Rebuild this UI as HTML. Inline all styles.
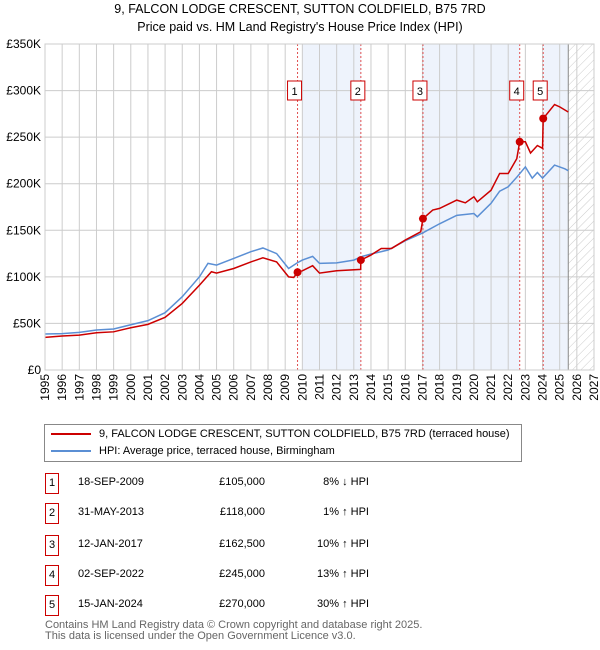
<!DOCTYPE html>
<html><head><meta charset="utf-8"><style>
body{margin:0;background:#fff;font-family:"Liberation Sans","DejaVu Sans",sans-serif;}
#wrap{position:relative;width:600px;height:650px;overflow:hidden;}
.t{position:absolute;font-size:11px;color:#000;white-space:nowrap;}
.box{position:absolute;border:1px solid #c00;width:12px;height:19px;font-size:11px;text-align:center;line-height:19px;background:#fff;}
</style></head><body><div id="wrap">
<svg id="chart" width="600" height="420" style="position:absolute;left:0;top:0"></svg>
<div style="position:absolute;left:44px;top:424px;width:476px;height:36px;border:1px solid #888;">
 <div style="position:absolute;left:6px;top:3px;font-size:11px;white-space:nowrap"><span style="display:inline-block;width:40px;height:2px;background:#c00;vertical-align:middle;margin-right:8px"></span>9, FALCON LODGE CRESCENT, SUTTON COLDFIELD, B75 7RD (terraced house)</div>
 <div style="position:absolute;left:6px;top:20px;font-size:11px;white-space:nowrap"><span style="display:inline-block;width:40px;height:2px;background:#5b8fd4;vertical-align:middle;margin-right:8px"></span>HPI: Average price, terraced house, Birmingham</div>
</div>
<div id="table"></div>
<div class="t" style="left:45px;top:620px;color:#666;font-size:11px;line-height:11px">Contains HM Land Registry data © Crown copyright and database right 2025.<br>This data is licensed under the Open Government Licence v3.0.</div>
</div>
<script>
const hpiYears=[1995,1996,1997,1998,1999,2000,2001,2002,2003,2004,2004.5,2005,2006,2007,2007.7,2008.5,2009.2,2009.7,2010,2010.6,2011,2012,2013,2013.5,2014,2015,2016,2017,2018,2019,2020,2020.2,2021,2021.5,2022,2022.5,2023,2023.4,2023.7,2024,2024.7,2025.3,2025.5];
const hpiValues=[38.6,39,40.4,43,44,48.6,53,61.5,78.7,100,114.5,112.6,119.8,127,131,125,109,115,118,122,114.5,115,118,122,124.5,128.8,138.8,147,157,166,168,164.5,179,192,196.7,207,218,206,212,206,220,216,214];
const redYears=[1995,1996,1997,1998,1999,2000,2001,2002,2003,2004,2004.7,2005,2006,2007,2007.7,2008.5,2009.2,2009.5,2009.72,2010,2010.6,2011,2012,2013.4,2013.41,2014,2014.6,2015.2,2016,2016.9,2017.03,2017.6,2018,2019,2019.5,2020,2020.2,2021,2021.5,2022,2022.5,2022.67,2023,2023.3,2023.7,2024,2024.04,2024.7,2025,2025.5];
const redValues=[35,36.5,37.5,40,41,45.4,49,56.5,71.5,91,105.5,104,109,116,120.5,116,100,99.4,105,106.5,112,104,106.5,108,118,123.4,130.5,130.5,139.5,148.4,162.5,171.7,173.5,182.4,179.5,186,180.6,193,211,211,227,245,245,233,241,238,270,285,282.5,277];
const saleYears=[2009.72,2013.41,2017.03,2022.67,2024.04];
const salePrices=[105,118,162.5,245,270];
const saleLabels=["1","2","3","4","5"];
const saleDates=["18-SEP-2009","31-MAY-2013","12-JAN-2017","02-SEP-2022","15-JAN-2024"];
const salePriceText=["£105,000","£118,000","£162,500","£245,000","£270,000"];
const saleHpiText=["8% ↓ HPI","1% ↑ HPI","10% ↑ HPI","13% ↑ HPI","30% ↑ HPI"];
const yTicks=[0,50,100,150,200,250,300,350];
const yTickLabels=["£0","£50K","£100K","£150K","£200K","£250K","£300K","£350K"];
const xTicks=[1995,1996,1997,1998,1999,2000,2001,2002,2003,2004,2005,2006,2007,2008,2009,2010,2011,2012,2013,2014,2015,2016,2017,2018,2019,2020,2021,2022,2023,2024,2025,2026,2027];

const L=45,R=594,T=44,B=370,x0=1995,x1=2027,ymax=350;
const X=v=>L+(v-x0)/(x1-x0)*(R-L);
const Y=v=>B-v/ymax*(B-T);
const svg=document.getElementById('chart');const NS='http://www.w3.org/2000/svg';
function mk(tag,attrs,parent){const e=document.createElementNS(NS,tag);for(const k in attrs)e.setAttribute(k,attrs[k]);(parent||svg).appendChild(e);return e;}
const defs=mk('defs',{});
const pat=mk('pattern',{id:'hatch',width:6,height:6,patternUnits:'userSpaceOnUse',patternTransform:'rotate(45)'},defs);
mk('line',{x1:0,y1:0,x2:0,y2:6,stroke:'#ccc','stroke-width':1},pat);
// shaded bands
const bands=[[2010,saleYears[1]],[saleYears[2],saleYears[3]],[saleYears[4],2025.5]];
bands.forEach((b,i)=>{const r=mk('rect',{x:X(b[0]),y:T,width:X(b[1])-X(b[0]),height:B-T,fill:'#eef3fc'});

});
const hr=mk('rect',{x:X(2025.5),y:T,width:R-X(2025.5),height:B-T,fill:'url(#hatch)'});


// grid
yTicks.forEach((v,i)=>{mk('line',{x1:L,x2:R,y1:Y(v),y2:Y(v),stroke:'#ccc'});
const t=mk('text',{x:L-4,y:Y(v)+4,'text-anchor':'end','font-size':12,'font-family':'Liberation Sans, sans-serif'});t.textContent=yTickLabels[i];

});
xTicks.forEach(v=>{mk('line',{x1:X(v),x2:X(v),y1:T,y2:B,stroke:'#ccc'});
const t=mk('text',{transform:`translate(${X(v)+4},${B+4}) rotate(-90)`,'text-anchor':'end','font-size':12,'font-family':'Liberation Sans, sans-serif'});t.textContent=v;

});
mk('line',{x1:X(2025.5),x2:X(2025.5),y1:T,y2:B,stroke:'#888'});
// sale lines
saleYears.forEach(v=>{const l=mk('line',{x1:X(v),x2:X(v),y1:T,y2:B,stroke:'#e05050','stroke-dasharray':'2,2','stroke-width':1});

});
// series
const hp=mk('polyline',{points:hpiYears.map((y,i)=>X(y)+','+Y(hpiValues[i])).join(' '),fill:'none',stroke:'#5b8fd4','stroke-width':1.5});


const rp=mk('polyline',{points:redYears.map((y,i)=>X(y)+','+Y(redValues[i])).join(' '),fill:'none',stroke:'#cc0000','stroke-width':1.5});


saleYears.forEach((v,i)=>{const c=mk('circle',{cx:X(v),cy:Y(salePrices[i]),r:4,fill:'#cc0000'});


const g=mk('rect',{x:X(v)-10,y:81,width:14,height:19,fill:'#fff',stroke:'#c00'});


const t=mk('text',{x:X(v)-3,y:95,'text-anchor':'middle','font-size':11,'font-family':'Liberation Sans, sans-serif'});t.textContent=saleLabels[i];});
mk('rect',{x:L,y:T,width:R-L,height:B-T,fill:'none',stroke:'#ccc'});
const t1=mk('text',{x:300,y:13,'text-anchor':'middle','font-size':12.5,'font-family':'Liberation Sans, sans-serif'});t1.textContent='9, FALCON LODGE CRESCENT, SUTTON COLDFIELD, B75 7RD';


const t2=mk('text',{x:300,y:31,'text-anchor':'middle','font-size':12.5,'font-family':'Liberation Sans, sans-serif'});t2.textContent="Price paid vs. HM Land Registry's House Price Index (HPI)";


// table
const tb=document.getElementById('table');const rows=[483,513,545,575,605];
saleLabels.forEach((s,i)=>{const y=rows[i];
const r=document.createElement('div');r.style.cssText=`position:absolute;left:0;top:${y-10}px;width:600px;height:20px`;


r.innerHTML=`<div class="box" style="left:45px;top:0">${s}</div><div class="t" style="left:78px;top:3px;width:60px;text-align:center">${saleDates[i]}</div><div class="t" style="left:195px;top:3px;width:70px;text-align:right">${salePriceText[i]}</div><div class="t" style="left:300px;top:3px;width:69px;text-align:right">${saleHpiText[i]}</div>`;
tb.appendChild(r);});
</script></body></html>
